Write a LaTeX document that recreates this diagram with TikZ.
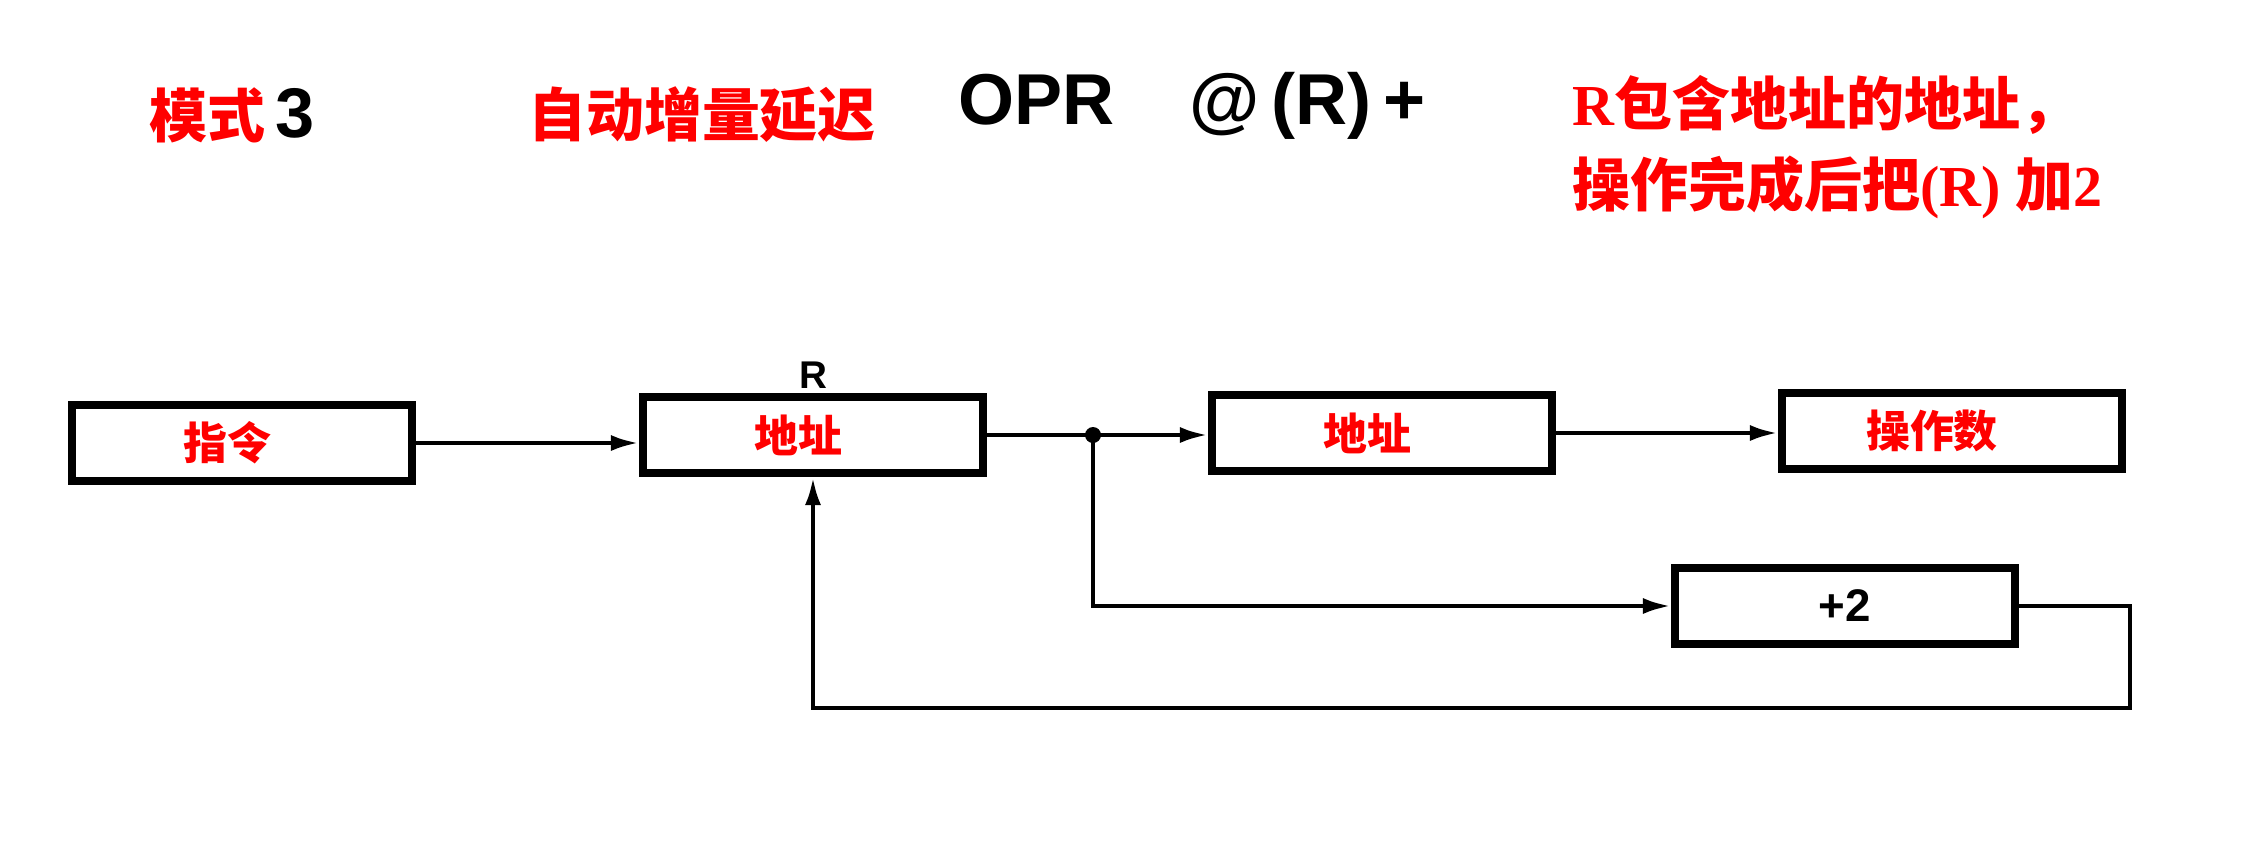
\documentclass[tikz,border=0pt]{standalone}
\usepackage{fontspec}
\setmainfont{Liberation Serif}
\newfontfamily\cjk{Noto Sans CJK SC}
\newfontfamily\lsans{Liberation Sans}
\usetikzlibrary{arrows.meta, positioning}

\begin{document}
\begin{tikzpicture}[
  x=0.1mm, y=-0.1mm,
  box/.style={draw, line width=2.3pt, minimum width=34mm, minimum height=7.6mm,
              inner sep=0pt, font=\cjk\bfseries\fontsize{12.5}{14}\selectfont, text=red},
  flow/.style={-{Latex[length=2.8mm, width=1.6mm]}, line width=1.3pt},
  title/.style={font=\cjk\bfseries\fontsize{16.5}{20}\selectfont, text=red, inner sep=0pt},
  code/.style={font=\lsans\bfseries\fontsize{20.5}{24}\selectfont, inner sep=0pt},
  tag/.style={font=\lsans\bfseries\fontsize{11}{12}\selectfont, inner sep=1pt}
]
\useasboundingbox (0,0) rectangle (2261,844);

% heading line
\node[title] (mode) at (232,115) {模式\,{\lsans\bfseries\fontsize{20}{24}\selectfont\color{black}3}};
\node[title] (name) at (702,115) {自动增量延迟};
\node[code] (syntax) at (1192,106) {OPR\hspace{7.5mm}@\,(R)\,+};
\node[title, anchor=west, align=left, font=\bfseries\fontsize{16.5}{23.2}\selectfont] (note) at (1572,147)
  {R{\cjk 包含地址的地址，}\\{\cjk 操作完成后把}(R) {\cjk 加}2};

% boxes
\node[box] (instr) at (242,443) {\hspace*{-3mm}指令};
\node[box] (reg) at (813,435) {\hspace*{-3mm}地址};
\node[tag, above=0mm of reg] (rname) {R};
\node[box] (addr) at (1382,433) {\hspace*{-3mm}地址};
\node[box] (operand) at (1952,431) {\hspace*{-4mm}操作数};
\node[box, font=\lsans\bfseries\fontsize{13}{14}\selectfont, text=black] (plus) at (1845,606) {+2};

\coordinate (split) at (1093,435);
\coordinate (back) at (2130,708);

\draw[flow] (instr.east) -- (instr.east -| reg.west);
\draw[line width=1.3pt] (reg.east |- split) -- (split);
\draw[flow] (split) -- (addr.west |- split);
\draw[flow] (addr.east) -- (operand.west |- addr.east);
\fill (split) circle[radius=0.8mm];
\draw[flow] (split) |- (plus.west);
\draw[flow] (plus.east) -| (back) -| (reg.south);

\end{tikzpicture}
\end{document}
